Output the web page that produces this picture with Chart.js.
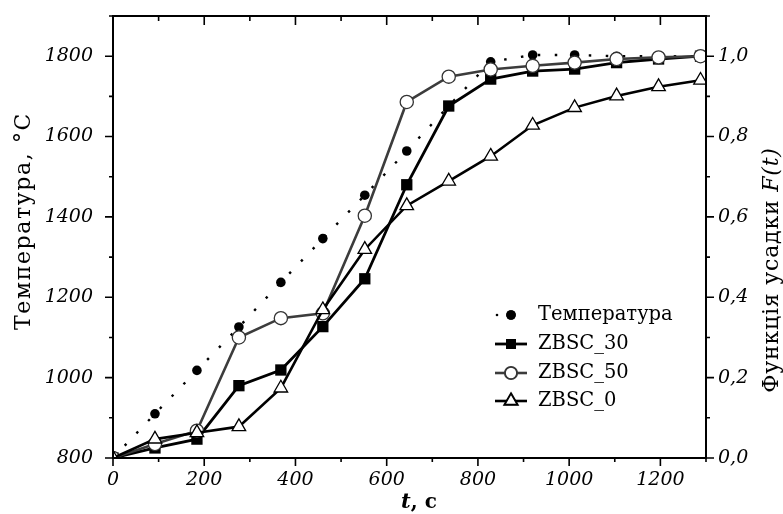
<!DOCTYPE html>
<html>
<head>
<meta charset="utf-8">
<script src="https://cdn.jsdelivr.net/npm/chart.js@4/dist/chart.umd.min.js"></script>
<style>
  body { margin: 0; background: #fff; }
  #wrap { width: 783px; height: 514px; }
</style>
</head>
<body>
<div id="wrap"><canvas id="shrinkChart"></canvas></div>
<script>
// time points, s
const times = [0, 92, 184, 276, 368, 460, 552, 644, 736, 828, 920, 1012, 1104, 1196, 1288]
// temperature, °C (left axis)
const temperature = [800, 910, 1018, 1126, 1237, 1346, 1454, 1564, 1676, 1786, 1803, 1803, 1800, 1800, 1800]
// shrinkage function F(t) (right axis)
const zbsc30 = [0, 0.025, 0.047, 0.18, 0.219, 0.327, 0.446, 0.68, 0.876, 0.943, 0.963, 0.968, 0.984, 0.993, 1.0]
const zbsc50 = [0, 0.035, 0.068, 0.30, 0.348, 0.36, 0.603, 0.886, 0.949, 0.967, 0.976, 0.984, 0.993, 0.997, 1.0]
const zbsc0 = [0, 0.047, 0.063, 0.078, 0.174, 0.369, 0.519, 0.628, 0.689, 0.751, 0.828, 0.872, 0.901, 0.924, 0.94]

const seriesNames = ['Температура', 'ZBSC_30', 'ZBSC_50', 'ZBSC_0']
const xLabels = [0, 200, 400, 600, 800, 1000, 1200]
const tempLabels = [800, 1000, 1200, 1400, 1600, 1800]
const fLabels = ['0,0', '0,2', '0,4', '0,6', '0,8', '1,0']

const FONT = "'DejaVu Serif', serif"

const toPoints = (vals) => times.map((t, i) => ({ x: t, y: vals[i] }))

// frame, tick marks, axis titles and legend are drawn by hand
const decorPlugin = {
  id: 'decor',
  afterDatasetsDraw(chart) {
    const ctx = chart.ctx
    const { left, right, top, bottom } = chart.chartArea
    const { x, y, y1 } = chart.scales
    ctx.save()
    ctx.strokeStyle = '#000'
    ctx.lineWidth = 2
    ctx.strokeRect(left, top, right - left, bottom - top)

    ctx.lineWidth = 1.6
    ctx.beginPath()
    x.ticks.forEach(t => {
      const px = x.getPixelForValue(t.value)
      const major = t.value % 200 === 0
      ctx.moveTo(px, bottom)
      ctx.lineTo(px, bottom + (major ? 8 : 4))
      ctx.moveTo(px, top)
      ctx.lineTo(px, top + (major ? 9 : 5))
    })
    y.ticks.forEach(t => {
      const py = y.getPixelForValue(t.value)
      const major = t.value % 200 === 0
      ctx.moveTo(left, py)
      ctx.lineTo(left - (major ? 8 : 4), py)
    })
    y1.ticks.forEach(t => {
      const py = y1.getPixelForValue(t.value)
      const major = Math.round(t.value * 10) % 2 === 0
      ctx.moveTo(right, py)
      ctx.lineTo(right + (major ? 8 : 4), py)
    })
    ctx.stroke()
    ctx.restore()
  },
  afterDraw(chart) {
    const ctx = chart.ctx
    ctx.save()
    ctx.fillStyle = '#000'
    ctx.textBaseline = 'middle'

    // left title
    ctx.save()
    ctx.translate(24, 221)
    ctx.rotate(-Math.PI / 2)
    ctx.textAlign = 'center'
    ctx.font = `22px ${FONT}`
    ctx.letterSpacing = '1.6px'
    ctx.fillText('Температура, °С', 0, 0)
    ctx.restore()

    // right title with italic F(t)
    ctx.save()
    ctx.translate(772, 270)
    ctx.rotate(-Math.PI / 2)
    ctx.textAlign = 'left'
    ctx.letterSpacing = '0.8px'
    const partA = 'Функція усадки '
    const partB = 'F(t)'
    ctx.font = `22px ${FONT}`
    const wA = ctx.measureText(partA).width
    ctx.font = `italic 22px ${FONT}`
    const wB = ctx.measureText(partB).width
    let sx = -(wA + wB) / 2
    ctx.font = `22px ${FONT}`
    ctx.fillText(partA, sx, 0)
    ctx.font = `italic 22px ${FONT}`
    ctx.fillText(partB, sx + wA, 0)
    ctx.restore()

    // bottom title
    ctx.textAlign = 'left'
    ctx.font = `italic bold 21px ${FONT}`
    const wt = ctx.measureText('t').width
    ctx.font = `bold 20px ${FONT}`
    const wc = ctx.measureText(', с').width
    let bx = 419 - (wt + wc) / 2
    ctx.font = `italic bold 21px ${FONT}`
    ctx.fillText('t', bx, 503)
    ctx.font = `bold 20px ${FONT}`
    ctx.fillText(', с', bx + wt, 503)

    // legend
    const rowY = [315, 344, 373, 401]
    chart.data.datasets.forEach((ds, i) => {
      const ly = rowY[i]
      ctx.save()
      ctx.strokeStyle = ds.borderColor
      ctx.lineWidth = ds.borderWidth
      if (ds.borderDash) {
        ctx.fillStyle = '#000'
        ctx.beginPath()
        ctx.arc(497, ly, 1.3, 0, Math.PI * 2)
        ctx.fill()
      } else {
        ctx.beginPath()
        ctx.moveTo(495, ly)
        ctx.lineTo(527, ly)
        ctx.stroke()
      }
      Chart.helpers.drawPoint(ctx, {
        pointStyle: ds.pointStyle,
        radius: ds.legendRadius,
        borderWidth: ds.pointBorderWidth
      }, 511, ly)
      ctx.fillStyle = ds.pointBackgroundColor
      ctx.strokeStyle = ds.pointBorderColor
      ctx.lineWidth = ds.pointBorderWidth
      ctx.fill()
      if (ds.pointBorderWidth) ctx.stroke()
      ctx.restore()
      ctx.font = `19.5px ${FONT}`
      ctx.fillStyle = '#000'
      ctx.fillText(seriesNames[i], 538, ly)
    })
    ctx.restore()
  }
}

const fixSide = (w) => (s) => {
  s.width = w
  s.paddingTop = 0
  s.paddingBottom = 0
}

const ctx = document.getElementById('shrinkChart')
new Chart(ctx, {
  type: 'line',
  data: {
    datasets: [
      {
        label: seriesNames[0],
        data: toPoints(temperature),
        yAxisID: 'y',
        order: 4,
        borderColor: '#000',
        borderWidth: 2.4,
        borderDash: [2.5, 14.5],
        pointStyle: 'circle',
        pointRadius: 4.8,
        legendRadius: 4.8,
        pointBackgroundColor: '#000',
        pointBorderColor: '#000',
        pointBorderWidth: 0,
      },
      {
        label: seriesNames[1],
        data: toPoints(zbsc30),
        yAxisID: 'y1',
        order: 3,
        borderColor: '#000',
        borderWidth: 2.8,
        pointStyle: 'rect',
        pointRadius: 8,
        legendRadius: 7,
        pointBackgroundColor: '#000',
        pointBorderColor: '#000',
        pointBorderWidth: 0,
      },
      {
        label: seriesNames[2],
        data: toPoints(zbsc50),
        yAxisID: 'y1',
        order: 2,
        borderColor: '#3c3c3c',
        borderWidth: 2.6,
        pointStyle: 'circle',
        pointRadius: 6.6,
        legendRadius: 5.8,
        pointBackgroundColor: '#fff',
        pointBorderColor: '#333',
        pointBorderWidth: 1.3,
      },
      {
        label: seriesNames[3],
        data: toPoints(zbsc0),
        yAxisID: 'y1',
        order: 1,
        borderColor: '#000',
        borderWidth: 2.6,
        pointStyle: 'triangle',
        pointRadius: 7.8,
        legendRadius: 7,
        pointBackgroundColor: '#fff',
        pointBorderColor: '#000',
        pointBorderWidth: 1.3,
      },
    ],
  },
  options: {
    animation: false,
    responsive: true,
    maintainAspectRatio: false,
    layout: { padding: { top: 16, left: 0, right: 0, bottom: 0 } },
    elements: { line: { tension: 0 } },
    plugins: { legend: { display: false }, tooltip: { enabled: false } },
    scales: {
      x: {
        type: 'linear',
        min: 0,
        max: 1300,
        grid: { display: false, drawTicks: false },
        border: { display: false },
        afterFit: (s) => {
          s.height = 56
          s.paddingLeft = 0
          s.paddingRight = 0
        },
        ticks: {
          stepSize: 100,
          padding: 11,
          maxRotation: 0,
          minRotation: 0,
          autoSkip: false,
          color: '#000',
          font: { family: FONT, size: 19, style: 'italic' },
          callback: (v) => xLabels.includes(v) ? String(v) : '',
        },
      },
      y: {
        type: 'linear',
        position: 'left',
        min: 800,
        max: 1900,
        grid: { display: false, drawTicks: false },
        border: { display: false },
        afterFit: fixSide(113),
        ticks: {
          stepSize: 100,
          padding: 20,
          autoSkip: false,
          color: '#000',
          font: { family: FONT, size: 19, style: 'italic' },
          callback: (v) => tempLabels.includes(v) ? String(v) : '',
        },
      },
      y1: {
        type: 'linear',
        position: 'right',
        min: 0,
        max: 1.1,
        grid: { display: false, drawTicks: false },
        border: { display: false },
        afterFit: fixSide(77),
        ticks: {
          stepSize: 0.1,
          padding: 12,
          autoSkip: false,
          color: '#000',
          font: { family: FONT, size: 19, style: 'italic' },
          callback: (v) => {
            const k = Math.round(v * 10)
            return k % 2 === 0 && k <= 10 ? fLabels[k / 2] : ''
          },
        },
      },
    },
  },
  plugins: [decorPlugin],
})
</script>
</body>
</html>
